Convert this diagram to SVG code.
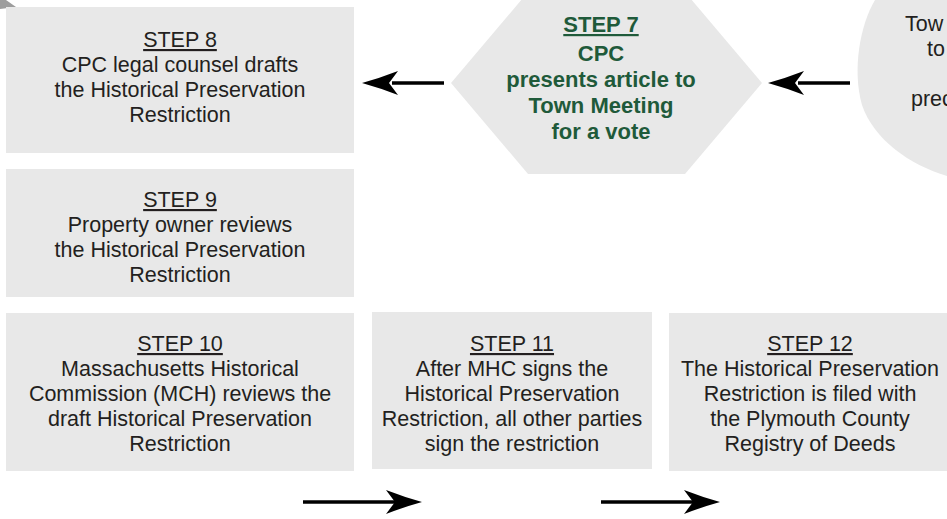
<svg xmlns="http://www.w3.org/2000/svg" xmlns:xlink="http://www.w3.org/1999/xlink" width="947" height="519" viewBox="0 0 947 519">
<style>
.box{fill:#e8e8e8}
.t{font-family:"Liberation Sans",Arial,sans-serif;font-size:21.5px;fill:#231f20;text-anchor:middle}
.g{font-family:"Liberation Sans",Arial,sans-serif;font-size:22px;font-weight:bold;fill:#1f5a3a;text-anchor:middle}
.u{text-decoration:underline}
.ln{stroke:#000;stroke-width:3.5;fill:none}
.ah{fill:#000}
</style>
<defs>
<path id="ah" d="M0,0 Q-18,-5 -36,-12 L-27,0 L-36,12 Q-18,5 0,0 Z"/>
</defs>
<rect width="947" height="519" fill="#fff"/>
<polygon points="0,0 6,0 16,7 0,9" fill="#9d9d9d"/>

<g id="step6">
<path class="box" d="M875,0 C860,25 852,70 862,105 C874,140 910,165 947,176 L947,0 Z"/>
<text class="t" x="905" y="31" text-anchor="start" style="text-anchor:start">Tow</text>
<text class="t" x="927" y="56" style="text-anchor:start">to</text>
<text class="t" x="911" y="106" style="text-anchor:start">prec</text>
</g>

<g id="step7">
<polygon class="box" points="451,83 528,-8 685,-8 762,83 685,174 528,174"/>
<text class="g u" x="601" y="32">STEP 7</text>
<text class="g" x="601" y="61">CPC</text>
<text class="g" x="601" y="87">presents article to</text>
<text class="g" x="601" y="113">Town Meeting</text>
<text class="g" x="601" y="139">for a vote</text>
</g>

<g id="step8">
<rect class="box" x="6" y="7" width="348" height="146"/>
<text class="t u" x="180" y="47">STEP 8</text>
<text class="t" x="180" y="72">CPC legal counsel drafts</text>
<text class="t" x="180" y="97">the Historical Preservation</text>
<text class="t" x="180" y="122">Restriction</text>
</g>

<g id="step9">
<rect class="box" x="6" y="169" width="348" height="128"/>
<text class="t u" x="180" y="207">STEP 9</text>
<text class="t" x="180" y="232">Property owner reviews</text>
<text class="t" x="180" y="257">the Historical Preservation</text>
<text class="t" x="180" y="282">Restriction</text>
</g>

<g id="step10">
<rect class="box" x="6" y="313" width="348" height="158"/>
<text class="t u" x="180" y="351">STEP 10</text>
<text class="t" x="180" y="376">Massachusetts Historical</text>
<text class="t" x="180" y="401">Commission (MCH) reviews the</text>
<text class="t" x="180" y="426">draft Historical Preservation</text>
<text class="t" x="180" y="451">Restriction</text>
</g>

<g id="step11">
<rect class="box" x="372" y="312" width="280" height="157"/>
<text class="t u" x="512" y="351">STEP 11</text>
<text class="t" x="512" y="376">After MHC signs the</text>
<text class="t" x="512" y="401">Historical Preservation</text>
<text class="t" x="512" y="426">Restriction, all other parties</text>
<text class="t" x="512" y="451">sign the restriction</text>
</g>

<g id="step12">
<rect class="box" x="669" y="313" width="290" height="158"/>
<text class="t u" x="810" y="351">STEP 12</text>
<text class="t" x="810" y="376">The Historical Preservation</text>
<text class="t" x="810" y="401">Restriction is filed with</text>
<text class="t" x="810" y="426">the Plymouth County</text>
<text class="t" x="810" y="451">Registry of Deeds</text>
</g>

<g id="connectors">
<line class="ln" x1="444" y1="83" x2="392" y2="83"/>
<use href="#ah" class="ah" transform="translate(362,83) rotate(180)"/>
<line class="ln" x1="850" y1="83" x2="798" y2="83"/>
<use href="#ah" class="ah" transform="translate(768,83) rotate(180)"/>
<line class="ln" x1="303" y1="502" x2="395" y2="502"/>
<use href="#ah" class="ah" transform="translate(422,502)"/>
<line class="ln" x1="601" y1="502" x2="693" y2="502"/>
<use href="#ah" class="ah" transform="translate(720,502)"/>
</g>
</svg>
